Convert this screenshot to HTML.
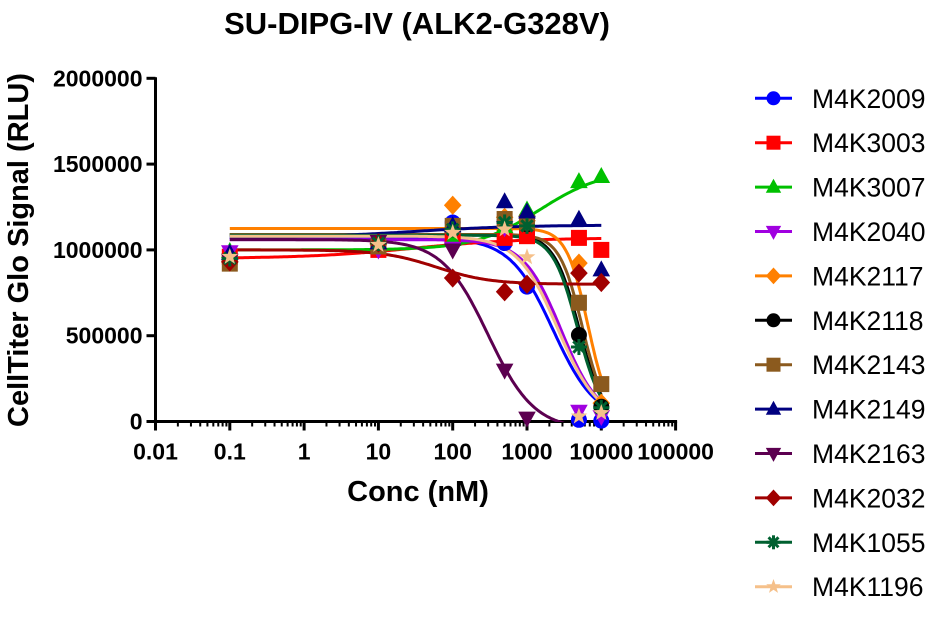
<!DOCTYPE html>
<html><head><meta charset="utf-8">
<style>
html,body{margin:0;padding:0;background:#fff;}
svg{display:block;font-family:"Liberation Sans",Arial,sans-serif;}
</style></head>
<body>
<svg id="chart" width="941" height="633" viewBox="0 0 941 633">
  <text x="417" y="34" text-anchor="middle" font-size="31" font-weight="bold">SU-DIPG-IV (ALK2-G328V)</text>
  <text transform="translate(28,250) rotate(-90)" text-anchor="middle" font-size="29" font-weight="bold">CellTiter Glo Signal (RLU)</text>
  <text x="418" y="501" text-anchor="middle" font-size="29" font-weight="bold">Conc (nM)</text>
  <defs><clipPath id="plotclip"><rect x="155" y="60" width="560" height="362"/></clipPath></defs>
  <g id="axes"></g>
  <g id="curves" clip-path="url(#plotclip)"></g>
  <g id="points"></g>
  <g id="legend"></g>
</svg>
<script>
const concs = [0.1, 10, 100, 500, 1000, 5000, 10000];
const seriesNames = ["M4K2009","M4K3003","M4K3007","M4K2040","M4K2117","M4K2118","M4K2143","M4K2149","M4K2163","M4K2032","M4K1055","M4K1196"];
const seriesColors = ["#0000ff","#ff0000","#00c000","#a000e0","#ff8000","#000000","#8b5a1e","#000080","#5c0050","#a00000","#006030","#f5c08a"];
const seriesMarkers = ["circle","square","triangle","down","diamond","circle","square","triangle","down","diamond","asterisk","star"];
const m4k2009 = [960000,1010000,1160000,1040000,786000,10000,5000];
const m4k3003 = [960000,1000000,1077000,1070000,1080000,1070000,1000000];
const m4k3007 = [990000,1030000,1060000,1135000,1232000,1397000,1427000];
const m4k2040 = [990000,1000000,1010000,1130000,1157000,60000,30000];
const m4k2117 = [930000,1030000,1260000,1190000,1170000,923000,107000];
const m4k2118 = [940000,1040000,1120000,1170000,1150000,504000,86000];
const m4k2143 = [920000,1020000,1140000,1180000,1160000,692000,218000];
const m4k2149 = [980000,1040000,1140000,1280000,1220000,1178000,883000];
const m4k2163 = [940000,1050000,1000000,300000,20000,null,null];
const m4k2032 = [930000,1040000,836000,756000,800000,865000,810000];
const m4k1055 = [950000,1040000,1120000,1160000,1140000,434000,80000];
const m4k1196 = [960000,1030000,1100000,1120000,958000,30000,50000];
const seriesValues = [m4k2009,m4k3003,m4k3007,m4k2040,m4k2117,m4k2118,m4k2143,m4k2149,m4k2163,m4k2032,m4k1055,m4k1196];
// 4PL fit parameters per series: bottom, top, EC50 (nM), hill (positive = decreasing)
const fitBottom = [0, 950000, 1000000, 0, 0, 0, 0, 1070000, -50000, 800000, 0, 0];
const fitTop = [1070000, 1070000, 1470000, 1060000, 1125000, 1090000, 1090000, 1145000, 1060000, 1000000, 1085000, 1080000];
const fitEC50 = [2240, 30, 1500, 2900, 6600, 5000, 5600, 30, 300, 60, 4800, 2600];
const fitHill = [1.5, -0.6, -1.0, 1.7, 3.0, 2.6, 2.8, -0.6, 1.4, 1.2, 2.6, 1.6];
const xTickLabels = ["0.01","0.1","1","10","100","1000","10000","100000"];
const yTickValues = [0, 500000, 1000000, 1500000, 2000000];

const NS = "http://www.w3.org/2000/svg";
const X0 = 155.5, DEC = 74.3, Y0 = 421.5, YPX = 171.6/1e6;
function xs(c){ return X0 + (Math.log10(c) + 2) * DEC; }
function ys(v){ return Y0 - v * YPX; }
function mk(tag, attrs, parent){ const e = document.createElementNS(NS, tag); for (const k in attrs) e.setAttribute(k, attrs[k]); parent.appendChild(e); return e; }

const axes = document.getElementById('axes');
const yAxisLine = mk('line', {x1:X0, y1:ys(2000000)-1, x2:X0, y2:Y0+1.5, stroke:'#000','stroke-width':3}, axes);


const xAxisLine = mk('line', {x1:X0-1.5, y1:Y0, x2:xs(100000)+1.5, y2:Y0, stroke:'#000','stroke-width':3}, axes);


yTickValues.forEach(v => {
  const t = mk('line', {x1:X0-9, y1:ys(v), x2:X0, y2:ys(v), stroke:'#000','stroke-width':3}, axes);
  
  
  const l = mk('text', {x:X0-13, y:ys(v)+8, 'text-anchor':'end','font-size':23,'font-weight':'bold'}, axes);
  l.textContent = String(v);
  
  
});
xTickLabels.forEach((s, i) => {
  const c = parseFloat(s);
  const t = mk('line', {x1:xs(c), y1:Y0, x2:xs(c), y2:Y0+9, stroke:'#000','stroke-width':3}, axes);
  
  
  if (i < xTickLabels.length - 1) {
    for (let m = 2; m <= 9; m++) {
      const mt = mk('line', {x1:xs(c*m), y1:Y0, x2:xs(c*m), y2:Y0+5, stroke:'#000','stroke-width':2}, axes);
      
      
    }
  }
  const l = mk('text', {x:xs(c), y:Y0+38, 'text-anchor':'middle','font-size':23,'font-weight':'bold'}, axes);
  l.textContent = s;
  
  
});

function marker(parent, type, cx, cy, color, r){
  let e;
  if (type === 'circle') e = mk('circle', {cx, cy, r, fill:color}, parent);
  else if (type === 'square') e = mk('rect', {x:cx-r, y:cy-r, width:2*r, height:2*r, fill:color}, parent);
  else if (type === 'triangle') e = mk('polygon', {points:`${cx},${cy-r*1.2} ${cx+r*1.1},${cy+r*0.8} ${cx-r*1.1},${cy+r*0.8}`, fill:color}, parent);
  else if (type === 'down') e = mk('polygon', {points:`${cx},${cy+r*1.2} ${cx+r*1.1},${cy-r*0.8} ${cx-r*1.1},${cy-r*0.8}`, fill:color}, parent);
  else if (type === 'diamond') e = mk('polygon', {points:`${cx},${cy-r*1.2} ${cx+r*1.1},${cy} ${cx},${cy+r*1.2} ${cx-r*1.1},${cy}`, fill:color}, parent);
  else if (type === 'star') {
    let p = [];
    for (let k = 0; k < 10; k++) { const a = -Math.PI/2 + k*Math.PI/5; const rr = k%2 ? r*0.45 : r*1.1; p.push((cx+rr*Math.cos(a)).toFixed(1)+','+(cy+rr*Math.sin(a)).toFixed(1)); }
    e = mk('polygon', {points:p.join(' '), fill:color}, parent);
  } else {
    e = mk('g', {}, parent);
    for (let k = 0; k < 4; k++) { const a = k*Math.PI/4; mk('line', {x1:cx-r*Math.cos(a), y1:cy-r*Math.sin(a), x2:cx+r*Math.cos(a), y2:cy+r*Math.sin(a), stroke:color,'stroke-width':3}, e); }
  }
  return e;
}

const curves = document.getElementById('curves');
const points = document.getElementById('points');
const legend = document.getElementById('legend');
seriesNames.forEach((name, i) => {
  const col = seriesColors[i];
  let d = '';
  for (let k = 0; k <= 200; k++) {
    const lc = -1 + k * 5 / 200;
    const c = Math.pow(10, lc);
    const v = fitBottom[i] + (fitTop[i] - fitBottom[i]) / (1 + Math.pow(c / fitEC50[i], fitHill[i]));
    d += (k ? 'L' : 'M') + xs(c).toFixed(1) + ',' + ys(v).toFixed(1);
  }
  const path = mk('path', {d, fill:'none', stroke:col, 'stroke-width':3}, curves);
  
  
  const vals = seriesValues[i];
  vals.forEach((v, j) => {
    if (v === null) return;
    const m = marker(points, seriesMarkers[i], xs(concs[j]), ys(v), col, 8);
    
    
  });
  const ly = 98.3 + i * 44.4;
  const g = mk('g', {}, legend);
  
  
  mk('line', {x1:755, y1:ly, x2:792, y2:ly, stroke:col, 'stroke-width':3}, g);
  marker(g, seriesMarkers[i], 773.5, ly, col, 7);
  const t = mk('text', {x:812, y:ly+9.5, 'font-size':26.5}, g);
  t.textContent = name;
});
</script>
</body></html>
